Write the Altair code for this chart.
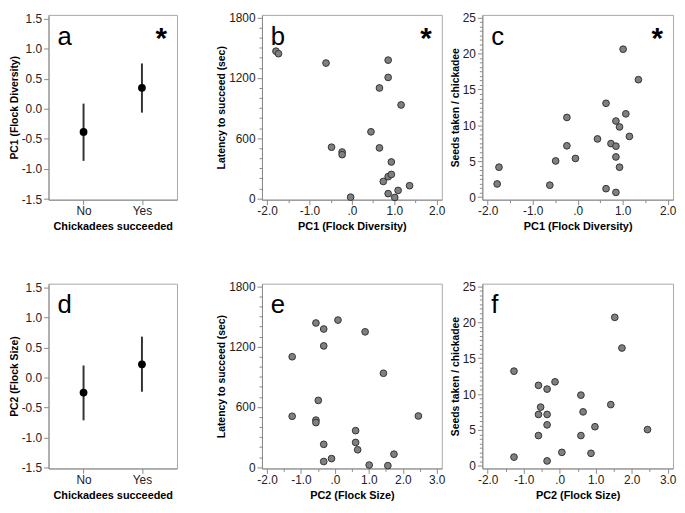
import altair as alt
import pandas as pd

FONT = "Liberation Sans"
W_A, W_B, W_C = 130, 182, 193
H = 187

# ---------------- data ----------------
categories = ["No", "Yes"]
pc1_mean = [-0.385, 0.348]
pc1_lo = [-0.865, -0.064]
pc1_hi = [0.086, 0.753]

pc2_mean = [-0.25, 0.22]
pc2_lo = [-0.71, -0.235]
pc2_hi = [0.20, 0.68]

b_pc1 = [-1.79, -1.73, -0.61, -0.48, -0.23, -0.23, -0.03, 0.45, 0.65, 0.65, 0.855,
         0.855, 1.16, 0.93, 0.74, 0.855, 0.93, 0.855, 1.09, 1.01, 1.36]
b_latency = [1465, 1440, 1347, 510, 462, 436, 13, 663, 1099, 503, 1376,
             1204, 930, 363, 169, 217, 239, 48, 80, 10, 127]

c_pc1 = [-1.75, -1.79, -0.62, -0.49, -0.24, -0.24, -0.05, 0.44, 0.63, 0.63, 1.01,
         0.74, 0.85, 0.85, 0.93, 1.07, 1.15, 0.85, 0.93, 0.85, 1.35]
c_seeds = [4.17, 1.84, 1.67, 5.04, 11.1, 7.15, 5.39, 8.11, 13.07, 1.18, 20.6,
           7.46, 7.1, 10.6, 9.78, 11.6, 8.46, 5.6, 4.17, 0.66, 16.36]

e_pc2 = [-0.56, -0.33, 0.09, 0.89, -0.33, -1.26, 1.43, -0.49, -1.26, -0.56, -0.56,
         2.46, 0.61, 0.61, 0.67, -0.33, -0.10, -0.33, 1.01, 1.56, 1.74]
e_latency = [1435, 1375, 1464, 1347, 1207, 1099, 935, 665, 507, 469, 444,
             510, 364, 247, 174, 228, 86, 57, 22, 16, 130]

f_pc2 = [1.53, 1.73, -1.27, -0.59, -0.35, -0.13, 0.59, 1.42, -0.53, -0.59, -0.35,
         0.65, -0.35, 0.98, 2.44, -0.59, 0.59, 0.06, 0.87, -1.27, -0.35]
f_seeds = [20.69, 16.42, 13.2, 11.22, 10.7, 11.71, 9.86, 8.54, 8.19, 7.17, 7.17,
           7.53, 5.72, 5.46, 5.06, 4.23, 4.23, 1.89, 1.76, 1.23, 0.70]

panel_letters = ["a", "b", "c", "d", "e", "f"]
significance = ["*", "*", "*", "", "", ""]

# tick values
pc_y_ticks = [-1.5, -1.0, -0.5, 0.0, 0.5, 1.0, 1.5]
lat_ticks = list(range(0, 1801, 100))
seed_ticks = [i * 0.625 for i in range(0, 41)]
pc1_x_ticks = [-2.0 + 0.5 * i for i in range(0, 9)]
pc2_x_ticks = [-2.0 + 0.5 * i for i in range(0, 11)]

pc_label = "(datum.value < 0 ? '-' : '') + format(abs(datum.value), '.1f')"
x_label = ("datum.value % 1 !== 0 ? '' : (datum.value === 0 ? '.0' : "
           "((datum.value < 0 ? '-' : '') + format(abs(datum.value), '.1f')))")
lat_label = "datum.value % 600 === 0 ? format(datum.value, 'd') : ''"
seed_label = "datum.value % 5 === 0 ? format(datum.value, 'd') : ''"

AXIS_COMMON = dict(
    labelFont=FONT, labelFontSize=12, labelColor="#222222",
    titleFont=FONT, titleFontWeight="bold", titleColor="#000000",
    domainColor="#8a8a8a", tickColor="#8a8a8a", grid=False,
    labelOverlap=False, labelBound=False,
)


def tick_size(test):
    return {"condition": {"test": test, "value": 5}, "value": 3}


def y_axis(title, values, test, label_expr):
    return alt.Axis(title=title, values=values, labelExpr=label_expr,
                    tickSize=tick_size(test), labelPadding=2, titlePadding=2,
                    titleFontSize=10.5, **AXIS_COMMON)


def x_axis(title, values, test, label_expr):
    return alt.Axis(title=title, values=values, labelExpr=label_expr,
                    tickSize=tick_size(test), labelPadding=1, titlePadding=4,
                    titleFontSize=11, labelAngle=0, **AXIS_COMMON)


def annotations(letter, star, width):
    layers = [
        alt.Chart(pd.DataFrame({"t": [letter]})).mark_text(
            font=FONT, fontSize=26, align="left", baseline="alphabetic", color="black"
        ).encode(x=alt.value(9), y=alt.value(30), text="t:N")
    ]
    if star:
        layers.append(
            alt.Chart(pd.DataFrame({"t": [star]})).mark_text(
                font=FONT, fontSize=30, fontWeight="bold", align="center",
                baseline="alphabetic", color="black"
            ).encode(x=alt.value(width - 16), y=alt.value(34), text="t:N")
        )
    return layers


def mean_panel(mean, lo, hi, ytitle, letter, star):
    df = pd.DataFrame({"cat": categories, "mean": mean, "lo": lo, "hi": hi})
    yscale = alt.Scale(domain=[-1.51, 1.56], nice=False, zero=False)
    xenc = alt.X("cat:N", scale=alt.Scale(type="point", padding=0.6),
                 axis=alt.Axis(title="Chickadees succeeded", tickSize=5, labelPadding=1,
                               titlePadding=4, titleFontSize=11, labelAngle=0, **AXIS_COMMON))
    yax = y_axis(ytitle, pc_y_ticks, "true", pc_label)
    base = alt.Chart(df).encode(x=xenc)
    rule = base.mark_rule(color="#333333", strokeWidth=2).encode(
        y=alt.Y("lo:Q", scale=yscale, axis=yax), y2="hi:Q")
    pt = base.mark_circle(size=62, color="black", opacity=1).encode(
        y=alt.Y("mean:Q", scale=yscale, axis=yax))
    return alt.layer(rule, pt, *annotations(letter, star, W_A)).properties(width=W_A, height=H)


def scatter_panel(x, y, xdom, ydom, xaxis, yaxis, width, letter, star):
    df = pd.DataFrame({"x": x, "y": y})
    pts = alt.Chart(df).mark_circle(size=46, fill="#808080", stroke="#333333",
                                    strokeWidth=1, opacity=1).encode(
        x=alt.X("x:Q", scale=alt.Scale(domain=xdom, nice=False, zero=False), axis=xaxis),
        y=alt.Y("y:Q", scale=alt.Scale(domain=ydom, nice=False, zero=False), axis=yaxis),
    )
    return alt.layer(pts, *annotations(letter, star, width)).properties(width=width, height=H)


lat_dom = [-12, 1826]
seed_dom = [-0.35, 25.38]
pc1_dom = [-2.12, 2.12]
pc2_dom = [-2.15, 3.15]

pa = mean_panel(pc1_mean, pc1_lo, pc1_hi, "PC1 (Flock Diversity)", panel_letters[0], significance[0])
pb = scatter_panel(b_pc1, b_latency, pc1_dom, lat_dom,
                   x_axis("PC1 (Flock Diversity)", pc1_x_ticks, "datum.value % 1 === 0", x_label),
                   y_axis("Latency to succeed (sec)", lat_ticks, "datum.value % 600 === 0", lat_label),
                   W_B, panel_letters[1], significance[1])
pc = scatter_panel(c_pc1, c_seeds, pc1_dom, seed_dom,
                   x_axis("PC1 (Flock Diversity)", pc1_x_ticks, "datum.value % 1 === 0", x_label),
                   y_axis("Seeds taken / chickadee", seed_ticks, "datum.value % 5 === 0", seed_label),
                   W_C, panel_letters[2], significance[2])
pd_ = mean_panel(pc2_mean, pc2_lo, pc2_hi, "PC2 (Flock Size)", panel_letters[3], significance[3])
pe = scatter_panel(e_pc2, e_latency, pc2_dom, lat_dom,
                   x_axis("PC2 (Flock Size)", pc2_x_ticks, "datum.value % 1 === 0", x_label),
                   y_axis("Latency to succeed (sec)", lat_ticks, "datum.value % 600 === 0", lat_label),
                   W_B, panel_letters[4], significance[4])
pf = scatter_panel(f_pc2, f_seeds, pc2_dom, seed_dom,
                   x_axis("PC2 (Flock Size)", pc2_x_ticks, "datum.value % 1 === 0", x_label),
                   y_axis("Seeds taken / chickadee", seed_ticks, "datum.value % 5 === 0", seed_label),
                   W_C, panel_letters[5], significance[5])

row1 = alt.hconcat(pa, alt.hconcat(pb, pc, spacing=4), spacing=38)
row2 = alt.hconcat(pd_, alt.hconcat(pe, pf, spacing=4), spacing=38)

chart = alt.vconcat(row1, row2, spacing=48).properties(
    padding=0, background="white"
).configure_view(stroke="#a8a8a8", strokeWidth=1)

chart.save("out.html", embed_options={"renderer": "svg", "actions": False})
